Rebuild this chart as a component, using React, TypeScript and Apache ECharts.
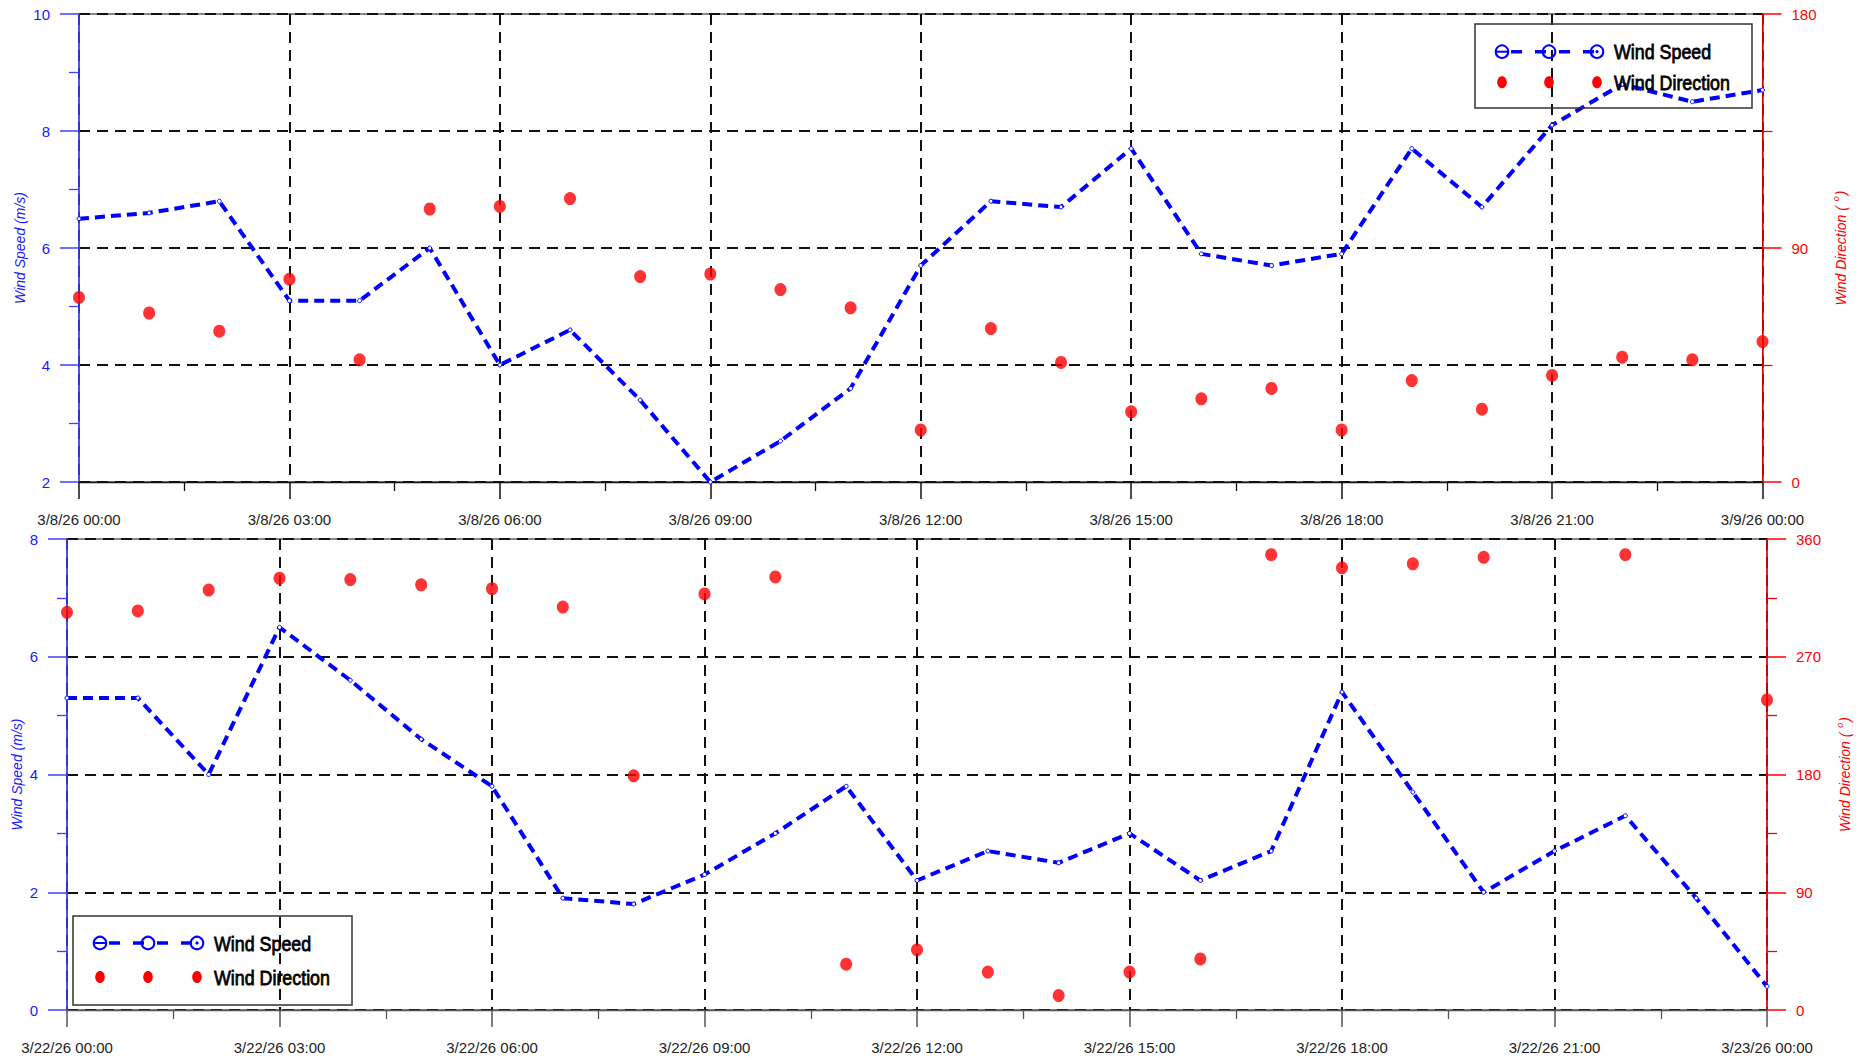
import React, { useEffect, useRef } from 'react';
import * as echarts from 'echarts';

// ---------- DATA ----------
const hours = [0, 1, 2, 3, 4, 5, 6, 7, 8, 9, 10, 11, 12, 13, 14, 15, 16, 17, 18, 19, 20, 21, 22, 23, 24];

const topSpeed = [6.5, 6.6, 6.8, 5.1, 5.1, 6.0, 4.0, 4.6, 3.4, 2.0, 2.7, 3.6, 5.7, 6.8, 6.7, 7.7, 5.9, 5.7, 5.9, 7.7, 6.7, 8.1, 8.8, 8.5, 8.7];
const topDirection = [71, 65, 58, 78, 47, 105, 106, 109, 79, 80, 74, 67, 20, 59, 46, 27, 32, 36, 20, 39, 28, 41, 48, 47, 54];

const bottomSpeed = [5.3, 5.3, 4.0, 6.5, 5.6, 4.6, 3.8, 1.9, 1.8, 2.3, 3.0, 3.8, 2.2, 2.7, 2.5, 3.0, 2.2, 2.7, 5.4, 3.7, 2.0, 2.7, 3.3, 1.9, 0.4];
const bottomDirection: (number | null)[] = [304, 305, 321, 330, 329, 325, 322, 308, 179, 318, 331, 35, 46, 29, 11, 29, 39, 348, 338, 341, 346, null, 348, null, 237];

const topXLabels = ['3/8/26 00:00', '3/8/26 03:00', '3/8/26 06:00', '3/8/26 09:00', '3/8/26 12:00', '3/8/26 15:00', '3/8/26 18:00', '3/8/26 21:00', '3/9/26 00:00'];
const bottomXLabels = ['3/22/26 00:00', '3/22/26 03:00', '3/22/26 06:00', '3/22/26 09:00', '3/22/26 12:00', '3/22/26 15:00', '3/22/26 18:00', '3/22/26 21:00', '3/23/26 00:00'];

const speedName = 'Wind Speed';
const directionName = 'Wind Direction';

// ---------- STYLE ----------
const FONT = "'Liberation Sans', Arial, Helvetica, sans-serif";
const BLUE = '#0000ff';
const BLUE_AXIS = '#4040ff';
const BLUE_TEXT = '#1a1aff';
const RED = '#ff0000';
const GRID_DASH = { color: '#111', width: 2, type: [11, 7] as any };

function xAxisCfg(gridIndex: number, labels: string[], lineColor: string) {
  return {
    gridIndex,
    type: 'value',
    min: 0,
    max: 24,
    interval: 3,
    axisLine: { show: true, onZero: false, lineStyle: { color: lineColor, width: 1.3 } },
    axisTick: { show: true, length: 17, lineStyle: { color: lineColor, width: 1.5 } },
    minorTick: { show: true, splitNumber: 2, length: 9, lineStyle: { color: lineColor, width: 1.3 } },
    axisLabel: {
      margin: 30,
      fontSize: 15,
      color: '#222',
      fontFamily: FONT,
      formatter: (v: number) => labels[Math.round(v / 3)] ?? '',
    },
    splitLine: { show: true, lineStyle: GRID_DASH },
    minorSplitLine: { show: false },
  };
}

function leftAxisCfg(gridIndex: number, min: number, max: number, nameGap: number) {
  return {
    gridIndex,
    type: 'value',
    position: 'left',
    min,
    max,
    interval: 2,
    name: 'Wind Speed (m/s)',
    nameLocation: 'middle',
    nameGap,
    nameMoveOverlap: false,
    nameTextStyle: { fontStyle: 'italic', fontSize: 14, color: BLUE_TEXT, fontFamily: FONT },
    axisLine: { show: true, lineStyle: { color: BLUE_AXIS, width: 1.5 } },
    axisTick: { show: true, length: 19, lineStyle: { color: BLUE_AXIS, width: 1.5 } },
    minorTick: { show: true, splitNumber: 2, length: 10, lineStyle: { color: BLUE_AXIS, width: 1.3 } },
    axisLabel: { margin: 29, fontSize: 15, color: BLUE_TEXT, fontFamily: FONT },
    splitLine: { show: true, lineStyle: GRID_DASH },
  };
}

function rightAxisCfg(gridIndex: number, max: number, nameGap: number) {
  return {
    gridIndex,
    type: 'value',
    position: 'right',
    min: 0,
    max,
    interval: 90,
    name: '{a|Wind Direction ( }{b|o}{a|)}',
    nameLocation: 'middle',
    nameGap,
    nameMoveOverlap: false,
    nameTextStyle: {
      color: RED,
      rich: {
        a: { fontStyle: 'italic', fontSize: 14, color: RED, fontFamily: FONT },
        b: { fontStyle: 'italic', fontSize: 9, color: RED, fontFamily: FONT, padding: [0, 1, 10, 1] },
      },
    },
    axisLine: { show: true, lineStyle: { color: RED, width: 1.5 } },
    axisTick: { show: true, length: 19, lineStyle: { color: RED, width: 1.5 } },
    minorTick: { show: true, splitNumber: 2, length: 10, lineStyle: { color: RED, width: 1.3 } },
    axisLabel: { margin: 29, fontSize: 15, color: RED, fontFamily: FONT },
    splitLine: { show: false },
  };
}

function speedSeries(xi: number, yi: number, values: number[]) {
  return {
    type: 'line',
    name: speedName,
    xAxisIndex: xi,
    yAxisIndex: yi,
    data: hours.map((h, i) => [h, values[i]]),
    symbol: 'circle',
    symbolSize: 4,
    showSymbol: true,
    itemStyle: { color: '#fff', borderColor: BLUE, borderWidth: 1 },
    lineStyle: { color: BLUE, width: 4, type: [10, 6] },
    z: 3,
  };
}

function directionSeries(xi: number, yi: number, values: (number | null)[]) {
  return {
    type: 'scatter',
    name: directionName,
    xAxisIndex: xi,
    yAxisIndex: yi,
    data: hours.map((h, i) => [h, values[i] == null ? '-' : values[i]]),
    symbol: 'circle',
    symbolSize: [12, 13],
    itemStyle: { color: RED },
    z: 4,
  };
}

function legendGraphics(
  box: { x: number; y: number; w: number; h: number },
  markersX: number[],
  rowY: number[],
  textX: number
) {
  const els: any[] = [];
  els.push({
    type: 'rect',
    shape: { x: box.x, y: box.y, width: box.w, height: box.h },
    style: { fill: 'none', stroke: '#333', lineWidth: 1.5 },
    z: 100,
  });
  els.push({
    type: 'line',
    shape: { x1: markersX[0], y1: rowY[0], x2: markersX[2], y2: rowY[0] },
    style: { stroke: BLUE, lineWidth: 3.5, lineDash: [11, 13], lineDashOffset: -9 },
    z: 100,
  });
  markersX.forEach((mx, i) => {
    els.push({
      type: 'circle',
      shape: { cx: mx, cy: rowY[0], r: 6.3 },
      style: { fill: 'none', stroke: BLUE, lineWidth: 2 },
      z: 101,
    });
    if (i === 0) {
      els.push({
        type: 'line',
        shape: { x1: mx - 6, y1: rowY[0], x2: mx + 6, y2: rowY[0] },
        style: { stroke: BLUE, lineWidth: 2 },
        z: 101,
      });
    }
    if (i === 2) {
      els.push({
        type: 'circle',
        shape: { cx: mx, cy: rowY[0], r: 1.6 },
        style: { fill: BLUE },
        z: 101,
      });
    }
    els.push({
      type: 'ellipse',
      shape: { cx: mx, cy: rowY[1], rx: 4.8, ry: 6 },
      style: { fill: RED },
      z: 101,
    });
  });
  [speedName, directionName].forEach((t, i) => {
    els.push({
      type: 'text',
      x: textX,
      y: rowY[i],
      scaleX: 0.85,
      style: {
        text: t,
        fontSize: 21,
        fontFamily: FONT,
        fill: '#000',
        stroke: '#000',
        lineWidth: 0.8,
        verticalAlign: 'middle',
        align: 'left',
      },
      z: 102,
    });
  });
  return els;
}

export default function App() {
  const ref = useRef<HTMLDivElement>(null);

  useEffect(() => {
    if (!ref.current) return;
    const chart = echarts.init(ref.current, null, { renderer: 'svg' });
    const option: any = {
      animation: false,
      backgroundColor: '#fff',
      grid: [
        { left: 79, right: 103.5, top: 14, height: 468, show: true, borderColor: '#111', borderWidth: 1, backgroundColor: 'transparent' },
        { left: 67, right: 99, top: 539, height: 471, show: true, borderColor: '#111', borderWidth: 1, backgroundColor: 'transparent' },
      ],
      xAxis: [xAxisCfg(0, topXLabels, '#111'), xAxisCfg(1, bottomXLabels, '#555')],
      yAxis: [
        leftAxisCfg(0, 2, 10, 52),
        rightAxisCfg(0, 180, 69),
        leftAxisCfg(1, 0, 8, 43),
        rightAxisCfg(1, 360, 68),
      ],
      series: [
        speedSeries(0, 0, topSpeed),
        directionSeries(0, 1, topDirection),
        speedSeries(1, 2, bottomSpeed),
        directionSeries(1, 3, bottomDirection),
      ],
      graphic: [
        ...legendGraphics({ x: 1475, y: 24, w: 277, h: 84 }, [1502, 1549, 1597], [51.7, 82.3], 1614),
        ...legendGraphics({ x: 73, y: 916, w: 279, h: 89 }, [100, 148, 197], [943, 977], 214),
      ],
    };
    chart.setOption(option);
    return () => chart.dispose();
  }, []);

  return (
    <div
      ref={ref}
      style={{ position: 'fixed', left: 0, top: 0, width: 1866, height: 1060, background: '#fff' }}
    />
  );
}
